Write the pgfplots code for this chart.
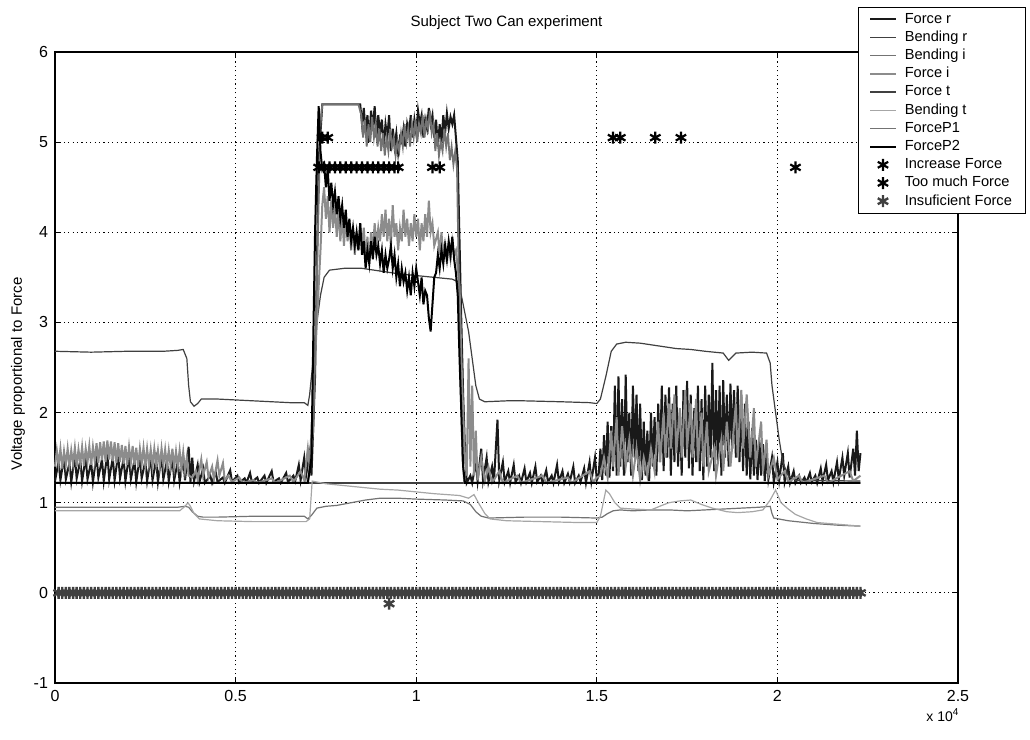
\documentclass[border=0pt]{standalone}
\usepackage{fontspec}
\setmainfont{Liberation Sans}
\usepackage{pgfplots}
\pgfplotsset{compat=1.18}
\begin{document}
\begin{tikzpicture}
\begin{axis}[
 scale only axis, width=451.5pt, height=315.5pt,
 xmin=0, xmax=25000, ymin=-1, ymax=6, clip=false,
 scaled x ticks=false,
 xtick={0,5000,10000,15000,20000,25000},
 xticklabels={0,0.5,1,1.5,2,2.5},
 ytick={-1,0,1,2,3,4,5,6},
 /pgf/number format/assume math mode=true,
 tick label style={font=\fontsize{8}{9}\selectfont},
 tick align=inside, major tick length=3pt,
 every tick/.style={black, line width=0.6pt},
 grid=major,
 major grid style={black, line width=0.5pt, dash pattern=on 0.6pt off 1.6pt},
 axis line style={line width=0.7pt},
 title={Subject Two Can experiment},
 title style={font=\fontsize{7.5}{9}\selectfont, inner sep=0pt, anchor=south, at={(0.5,1)}, yshift=5pt},
 ylabel={Voltage proportional to Force},
 ylabel style={font=\fontsize{7.5}{9}\selectfont, at={(axis description cs:-0.041,0.49)}, anchor=center},
 legend style={at={(0.889,1.0713)}, anchor=north west, draw=black, fill=white,
   font=\fontsize{7.3}{8}\selectfont, inner ysep=1.5pt, inner xsep=5.5pt, row sep=0.3pt,
   nodes={inner sep=1pt, text height=5.3pt, text depth=1.5pt},
   /tikz/every odd column/.append style={column sep=3pt}},
 legend cell align=left,
 legend image code/.code={\draw[mark repeat=2,mark phase=2,#1] plot coordinates {(0cm,0cm)(0.22cm,0cm)(0.44cm,0cm)};},
]
% Force r
\addplot[black!90, line width=1pt] table[row sep=\\] {x y\\
0 1.24\\100 1.46\\150 1.25\\250 1.5\\300 1.26\\400 1.44\\450 1.23\\550 1.52\\600 1.27\\700 1.47\\750 1.24\\850 1.5\\900 1.26\\1000 1.45\\1050 1.23\\1150 1.53\\1200 1.28\\1300 1.48\\1350 1.24\\1450 1.55\\1500 1.26\\1600 1.5\\1650 1.25\\1750 1.54\\1800 1.27\\1900 1.49\\1950 1.24\\2050 1.52\\2100 1.26\\2200 1.47\\2250 1.23\\2350 1.51\\2400 1.27\\2500 1.46\\2550 1.24\\2650 1.5\\2700 1.25\\2800 1.48\\2850 1.23\\2950 1.52\\3000 1.26\\3100 1.47\\3150 1.24\\3250 1.5\\3300 1.25\\3400 1.46\\3450 1.23\\3550 1.49\\3600 1.25\\3700 1.62\\3750 1.23\\
3800 1.5\\3850 1.24\\3950 1.42\\4000 1.23\\4100 1.38\\4150 1.22\\4300 1.3\\4350 1.22\\4450 1.34\\4500 1.23\\4650 1.28\\4700 1.22\\4850 1.36\\4900 1.23\\5050 1.3\\5100 1.22\\5250 1.27\\5300 1.22\\5400 1.33\\5450 1.23\\5600 1.28\\5650 1.22\\5800 1.3\\5850 1.22\\6000 1.35\\6050 1.23\\6200 1.27\\6250 1.22\\6400 1.33\\6450 1.23\\6600 1.3\\6650 1.24\\6750 1.42\\6800 1.25\\6900 1.5\\6950 1.3\\7050 1.55\\7100 1.3\\7200 2.4\\7250 3.6\\7300 4.8\\7350 5.1\\7400 5.42\\
8450 5.42\\8500 5.2\\8550 5.38\\8600 5.1\\8650 5.3\\8700 5.0\\8750 5.35\\8800 5.15\\8850 5.4\\8900 5.05\\8950 5.3\\9000 5.1\\9050 5.25\\9100 4.95\\9150 5.2\\9200 5.05\\9250 5.3\\9300 4.9\\9350 5.15\\9400 4.95\\9450 5.1\\9500 4.88\\9550 5.05\\9600 5.0\\9650 5.15\\9700 4.95\\9750 5.2\\9800 5.1\\9850 5.3\\9900 5.05\\9950 5.25\\10000 5.1\\10050 5.35\\10100 5.2\\10150 5.3\\10200 5.05\\10250 5.25\\10300 5.15\\10350 5.38\\10400 5.2\\10450 5.3\\10500 5.05\\10550 5.25\\10600 4.95\\10650 5.2\\10700 5.0\\10750 5.3\\10800 5.1\\10850 5.32\\10900 5.15\\10950 5.28\\11000 5.2\\11050 5.3\\11100 5.05\\11150 4.8\\11200 3.9\\11250 3.0\\11300 2.2\\11350 1.6\\11400 1.22\\
11500 1.3\\11550 1.22\\11650 1.45\\11700 1.24\\11800 1.6\\11850 1.25\\11950 1.5\\12000 1.23\\12100 1.4\\12150 1.22\\12250 1.92\\12300 1.25\\12400 1.45\\12450 1.23\\12550 1.35\\12600 1.22\\12700 1.42\\12750 1.23\\12850 1.3\\12900 1.22\\13000 1.38\\13050 1.23\\13150 1.33\\13200 1.22\\13300 1.4\\13350 1.23\\13450 1.3\\13500 1.22\\13600 1.36\\13650 1.23\\13750 1.3\\13800 1.22\\13900 1.42\\13950 1.23\\14050 1.35\\14100 1.22\\14200 1.32\\14250 1.23\\14350 1.4\\14400 1.22\\14500 1.3\\14550 1.23\\14650 1.38\\14700 1.22\\14800 1.45\\14850 1.24\\14950 1.5\\15000 1.25\\
15050 1.3\\15100 1.6\\15150 1.25\\15200 1.75\\15250 1.3\\15300 1.9\\15350 1.28\\15400 1.85\\15450 1.35\\15500 2.3\\15550 1.3\\15600 2.4\\15650 1.4\\15700 2.15\\15750 1.3\\15800 2.42\\15850 1.45\\15900 2.0\\15950 1.3\\16000 2.3\\16050 1.5\\16100 2.2\\16150 1.35\\16200 2.1\\16250 1.25\\16300 1.9\\16350 1.3\\16400 1.8\\16450 1.24\\16500 2.0\\16550 1.4\\16600 1.95\\16650 1.3\\16700 2.1\\16750 1.45\\16800 2.3\\16850 1.35\\16900 2.2\\16950 1.5\\17000 2.28\\17050 1.3\\17100 2.1\\17150 1.45\\17200 2.3\\17250 1.4\\17300 2.0\\17350 1.3\\17400 2.25\\17450 1.5\\17500 2.35\\17550 1.38\\17600 2.2\\17650 1.3\\17700 2.05\\17750 1.45\\17800 2.3\\17850 1.35\\17900 2.15\\17950 1.25\\18000 2.3\\18050 1.4\\18100 2.2\\18150 1.5\\18200 2.55\\18250 1.35\\18300 2.25\\18350 1.45\\18400 2.3\\18450 1.3\\18500 2.36\\18550 1.5\\18600 2.2\\18650 1.4\\18700 2.32\\18750 1.6\\18800 2.25\\18850 1.5\\18900 2.3\\18950 1.45\\19000 2.2\\19050 1.35\\19100 2.1\\19150 1.3\\19200 1.9\\19250 1.26\\19300 1.83\\19350 1.3\\19400 1.7\\19450 1.25\\19500 1.7\\19550 1.3\\19600 1.65\\19650 1.24\\19700 1.55\\19750 1.26\\19850 1.5\\19900 1.23\\20000 1.45\\20050 1.25\\20150 1.55\\20200 1.23\\20300 1.4\\20350 1.22\\20450 1.35\\20500 1.22\\
20600 1.3\\20650 1.22\\20750 1.28\\20800 1.22\\20900 1.33\\20950 1.23\\21050 1.3\\21100 1.22\\21200 1.38\\21250 1.24\\21350 1.42\\21400 1.25\\21500 1.35\\21550 1.23\\21650 1.45\\21700 1.26\\21800 1.5\\21850 1.3\\21950 1.55\\22000 1.28\\22100 1.6\\22150 1.3\\22200 1.8\\22250 1.35\\22300 1.55\\
};
\addlegendentry{Force r}
% Bending r
\addplot[black!75, line width=0.6pt] table[row sep=\\] {x y\\
0 2.68\\1000 2.67\\2000 2.68\\3000 2.68\\3400 2.69\\3550 2.7\\3650 2.6\\3700 2.3\\3750 2.12\\3850 2.07\\3950 2.1\\4050 2.15\\4500 2.15\\5000 2.14\\5500 2.13\\6000 2.12\\6500 2.11\\6900 2.11\\7000 2.08\\7050 2.2\\7150 2.6\\7250 3.0\\7350 3.3\\7450 3.5\\7600 3.58\\8000 3.6\\8500 3.6\\9000 3.57\\9500 3.54\\10000 3.52\\10500 3.5\\11000 3.48\\11150 3.45\\11250 3.3\\11350 3.1\\11450 2.9\\11550 2.6\\11650 2.3\\11750 2.15\\11900 2.12\\12500 2.13\\13000 2.13\\14000 2.12\\14800 2.11\\15000 2.1\\15100 2.15\\15250 2.4\\15400 2.68\\15550 2.76\\15800 2.78\\16200 2.77\\16700 2.74\\17200 2.71\\17600 2.7\\18000 2.68\\18500 2.66\\18650 2.58\\18750 2.62\\18850 2.66\\19300 2.67\\19700 2.66\\19800 2.55\\19850 2.3\\19950 2.0\\20050 1.7\\20150 1.45\\20300 1.3\\20500 1.25\\22300 1.24\\
};
\addlegendentry{Bending r}
% Bending i
\addplot[black!55, line width=0.6pt] table[row sep=\\] {x y\\
0 0.95\\3000 0.95\\3400 0.95\\3600 0.96\\3700 0.95\\3800 0.9\\3950 0.85\\4100 0.84\\4500 0.84\\5500 0.85\\6500 0.85\\6900 0.85\\7000 0.82\\7100 0.86\\7250 0.94\\7500 0.96\\7800 0.97\\8200 1.0\\8600 1.03\\9000 1.05\\9500 1.05\\10000 1.04\\10800 1.03\\11300 1.02\\11500 0.98\\11650 0.9\\11800 0.85\\12000 0.83\\13000 0.84\\14000 0.84\\15000 0.83\\15150 0.84\\15300 0.88\\15450 0.91\\15650 0.92\\16000 0.91\\16500 0.92\\17000 0.92\\17500 0.91\\18000 0.92\\18500 0.93\\19000 0.94\\19500 0.95\\19800 0.96\\19850 0.88\\19900 0.83\\20300 0.8\\21000 0.77\\21700 0.75\\22300 0.74\\
};
\addlegendentry{Bending i}
% Force i
\addplot[black!45, line width=1pt] table[row sep=\\] {x y\\
0 1.4\\50 1.58\\100 1.42\\150 1.6\\200 1.38\\250 1.57\\300 1.42\\350 1.6\\400 1.4\\450 1.58\\500 1.43\\550 1.61\\600 1.4\\650 1.59\\700 1.44\\750 1.62\\800 1.41\\850 1.6\\900 1.45\\950 1.63\\1000 1.42\\1050 1.62\\1100 1.46\\1150 1.66\\1200 1.44\\1250 1.67\\1300 1.47\\1350 1.68\\1400 1.45\\1450 1.69\\1500 1.48\\1550 1.68\\1600 1.46\\1650 1.67\\1700 1.44\\1750 1.66\\1800 1.45\\1850 1.64\\1900 1.43\\1950 1.63\\2000 1.42\\2050 1.62\\2100 1.44\\2150 1.63\\2200 1.42\\2250 1.61\\2300 1.4\\2350 1.6\\2400 1.43\\2450 1.61\\2500 1.41\\2550 1.6\\2600 1.42\\2650 1.59\\2700 1.4\\2750 1.6\\2800 1.43\\2850 1.58\\2900 1.4\\2950 1.6\\3000 1.42\\3050 1.59\\3100 1.4\\3150 1.58\\3200 1.41\\3250 1.6\\3300 1.39\\3350 1.57\\3400 1.4\\3450 1.58\\3500 1.38\\3550 1.56\\3600 1.35\\3650 1.5\\3700 1.3\\
3800 1.28\\3900 1.35\\3950 1.25\\4050 1.48\\4100 1.3\\4200 1.45\\4250 1.28\\4350 1.4\\4400 1.26\\4500 1.47\\4550 1.3\\4650 1.44\\4700 1.25\\4800 1.3\\4900 1.23\\5100 1.28\\5200 1.22\\5500 1.25\\5600 1.22\\6000 1.27\\6100 1.22\\6500 1.3\\6600 1.23\\6800 1.35\\6900 1.25\\7000 1.6\\7050 1.4\\7150 2.2\\7250 3.0\\7350 3.8\\7400 4.3\\
7450 4.5\\7500 4.15\\7550 4.4\\7600 4.0\\7650 4.35\\7700 4.05\\7750 4.3\\7800 3.95\\7850 4.25\\7900 3.9\\7950 4.2\\8000 3.85\\8050 4.15\\8100 3.9\\8150 4.1\\8200 3.8\\8250 4.05\\8300 3.75\\8350 4.0\\8400 3.8\\8450 4.1\\8500 3.85\\8550 4.05\\8600 3.7\\8650 3.95\\8700 3.65\\8750 4.0\\8800 3.8\\8850 4.1\\8900 3.85\\8950 4.05\\9000 3.9\\9050 4.2\\9100 3.95\\9150 4.25\\9200 3.9\\9250 4.15\\9300 3.85\\9350 4.3\\9400 3.95\\9450 4.1\\9500 3.8\\9550 4.05\\9600 3.9\\9650 4.25\\9700 3.95\\9750 4.15\\9800 3.85\\9850 4.1\\9900 3.9\\9950 4.2\\10000 3.95\\10050 4.15\\10100 3.8\\10150 4.1\\10200 3.9\\10250 4.2\\10300 3.95\\10350 4.35\\10400 4.0\\10450 4.1\\10500 3.85\\10600 4.0\\10650 3.75\\10700 4.0\\10750 3.7\\10800 3.9\\10850 3.65\\10900 3.85\\10950 3.7\\11000 3.9\\11050 3.75\\11100 3.8\\11150 3.6\\11200 3.4\\11250 2.6\\11300 2.0\\11350 1.5\\11400 1.3\\11450 2.6\\11500 1.4\\11550 2.3\\11600 1.3\\11650 1.8\\11700 1.25\\11800 1.5\\11900 1.24\\12000 1.4\\12100 1.22\\12300 1.35\\12400 1.22\\12800 1.3\\12900 1.22\\13500 1.3\\13600 1.22\\14200 1.28\\14300 1.22\\14800 1.35\\14900 1.23\\15000 1.28\\
15100 1.3\\15200 1.5\\15300 1.28\\15400 1.8\\15450 1.4\\15550 1.95\\15600 1.3\\15700 1.85\\15800 1.4\\15900 1.7\\16000 1.3\\16100 1.6\\16200 1.25\\16300 1.5\\16400 1.3\\16500 1.6\\16600 1.35\\16700 1.9\\16750 1.45\\16850 2.0\\16900 1.5\\17000 2.1\\17050 1.6\\17150 2.2\\17200 1.55\\17300 2.05\\17350 1.5\\17450 2.25\\17500 1.6\\17600 2.1\\17650 1.5\\17750 2.15\\17800 1.45\\17900 2.0\\17950 1.4\\18050 1.9\\18100 1.35\\18250 1.6\\18300 1.3\\18450 1.7\\18500 1.35\\18600 1.9\\18700 1.4\\18850 2.1\\18900 1.5\\19000 2.25\\19050 1.6\\19150 2.2\\19250 1.5\\19350 2.05\\19400 1.4\\19550 1.9\\19600 1.35\\19700 1.7\\19750 1.3\\19900 1.5\\20000 1.26\\20200 1.35\\20300 1.23\\20600 1.3\\20700 1.22\\21300 1.3\\21400 1.22\\22000 1.35\\22100 1.24\\22300 1.3\\
};
\addlegendentry{Force i}
% Force t
\addplot[black!75, line width=1.3pt] table[row sep=\\] {x y\\
0 1.22\\22300 1.22\\
};
\addlegendentry{Force t}
% Bending t
\addplot[black!35, line width=0.6pt] table[row sep=\\] {x y\\
0 0.91\\3000 0.91\\3450 0.91\\3600 0.96\\3680 1.0\\3750 0.96\\3850 0.88\\4000 0.82\\4500 0.8\\5500 0.79\\6500 0.79\\6950 0.79\\7050 0.82\\7120 1.24\\7500 1.21\\8000 1.19\\8500 1.17\\9000 1.15\\9500 1.14\\10000 1.12\\10500 1.1\\11200 1.08\\11450 1.05\\11600 1.09\\11750 0.98\\11900 0.88\\12050 0.82\\12500 0.8\\13500 0.79\\14500 0.78\\15000 0.78\\15100 0.85\\15250 1.14\\15350 1.1\\15500 1.0\\15650 0.94\\16000 0.93\\16500 0.92\\16800 0.97\\17000 1.0\\17300 1.02\\17600 1.03\\17900 0.98\\18200 0.94\\18600 0.9\\18900 0.89\\19300 0.9\\19600 0.92\\19800 1.03\\19950 1.14\\20100 1.0\\20300 0.93\\20500 0.87\\20800 0.82\\21100 0.78\\21700 0.76\\22300 0.74\\
};
\addlegendentry{Bending t}
% ForceP1
\addplot[black!55, line width=0.9pt] table[row sep=\\] {x y\\
0 1.22\\7000 1.22\\7150 1.8\\7250 3.5\\7350 5.2\\7400 5.42\\8400 5.42\\8480 5.3\\8530 5.05\\8580 5.25\\8630 4.95\\8680 5.2\\8730 5.0\\8780 5.28\\8830 5.05\\8880 5.2\\8930 4.95\\8980 5.15\\9030 4.9\\9080 5.1\\9130 4.85\\9180 5.05\\9230 4.9\\9280 5.15\\9330 4.95\\9380 5.05\\9430 4.85\\9480 5.0\\9530 4.9\\9580 5.1\\9630 4.95\\9680 5.2\\9730 5.0\\9780 5.15\\9830 4.95\\9880 5.2\\9930 5.05\\9980 5.25\\10030 5.0\\10080 5.2\\10130 5.1\\10180 5.3\\10230 5.05\\10280 5.25\\10330 5.15\\10380 5.35\\10430 5.1\\10480 5.2\\10530 4.9\\10580 5.1\\10630 4.85\\10680 5.0\\10730 4.9\\10780 5.15\\10830 4.95\\10880 5.1\\10930 4.8\\10980 4.95\\11030 4.75\\11080 4.9\\11130 4.7\\11180 3.5\\11230 2.3\\11280 1.5\\11330 1.22\\22300 1.22\\
};
\addlegendentry{ForceP1}
% ForceP2
\addplot[black, line width=1pt] table[row sep=\\] {x y\\
0 1.22\\7000 1.22\\7100 1.5\\7150 2.8\\7200 4.0\\7250 4.8\\7300 5.4\\7350 4.9\\7400 4.7\\7450 4.75\\7500 4.5\\7550 4.7\\7600 4.35\\7650 4.55\\7700 4.3\\7750 4.45\\7800 4.2\\7850 4.4\\7900 4.15\\7950 4.3\\8000 4.05\\8050 4.25\\8100 3.95\\8150 4.15\\8200 3.9\\8250 4.05\\8300 3.85\\8350 4.0\\8400 3.8\\8450 4.1\\8500 3.75\\8550 3.9\\8600 3.6\\8650 3.8\\8700 3.65\\8750 3.9\\8800 3.7\\8850 3.95\\8900 3.75\\8950 3.85\\9000 3.65\\9050 3.8\\9100 3.55\\9150 3.75\\9200 3.6\\9250 3.7\\9300 3.85\\9350 3.6\\9400 3.75\\9450 3.5\\9500 3.65\\9550 3.4\\9600 3.6\\9650 3.45\\9700 3.55\\9750 3.35\\9800 3.5\\9850 3.3\\9900 3.55\\9950 3.4\\10000 3.6\\10050 3.45\\10100 3.3\\10150 3.5\\10200 3.2\\10250 3.35\\10300 3.3\\10350 3.05\\10400 2.9\\10450 3.2\\10500 3.5\\10550 3.55\\10600 3.75\\10650 3.6\\10700 3.8\\10750 3.65\\10800 3.85\\10850 3.7\\10900 3.9\\10950 3.75\\11000 3.95\\11050 3.7\\11100 3.55\\11150 3.3\\11200 2.6\\11250 2.0\\11300 1.4\\11350 1.22\\22300 1.22\\
};
\addlegendentry{ForceP2}
% markers
\addplot[only marks, mark=asterisk, mark size=3pt, mark options={black, line width=1.1pt}] coordinates {
(7300,4.72)(7450,4.72)(7600,4.72)(7750,4.72)(7900,4.72)(8050,4.72)(8200,4.72)(8350,4.72)(8500,4.72)(8650,4.72)(8800,4.72)(8950,4.72)(9100,4.72)(9250,4.72)(9400,4.72)(9500,4.72)(10450,4.72)(10650,4.72)(20500,4.72)};
\addlegendentry{Increase Force}
\addplot[only marks, mark=asterisk, mark size=3pt, mark options={black, line width=1.1pt}] coordinates {
(7400,5.05)(7550,5.05)(15450,5.05)(15650,5.05)(16620,5.05)(17330,5.05)};
\addlegendentry{Too much Force}
\addplot[only marks, mark=asterisk, mark size=3pt, mark options={black!75, line width=1.2pt}] coordinates {
(100,0)(200,0)(300,0)(400,0)(500,0)(600,0)(700,0)(800,0)(900,0)(1000,0)(1100,0)(1200,0)(1300,0)(1400,0)(1500,0)(1600,0)(1700,0)(1800,0)(1900,0)(2000,0)(2100,0)(2200,0)(2300,0)(2400,0)(2500,0)(2600,0)(2700,0)(2800,0)(2900,0)(3000,0)(3100,0)(3200,0)(3300,0)(3400,0)(3500,0)(3600,0)(3700,0)(3800,0)(3900,0)(4000,0)(4100,0)(4200,0)(4300,0)(4400,0)(4500,0)(4600,0)(4700,0)(4800,0)(4900,0)(5000,0)(5100,0)(5200,0)(5300,0)(5400,0)(5500,0)(5600,0)(5700,0)(5800,0)(5900,0)(6000,0)(6100,0)(6200,0)(6300,0)(6400,0)(6500,0)(6600,0)(6700,0)(6800,0)(6900,0)(7000,0)(7100,0)(7200,0)(7300,0)(7400,0)(7500,0)(7600,0)(7700,0)(7800,0)(7900,0)(8000,0)(8100,0)(8200,0)(8300,0)(8400,0)(8500,0)(8600,0)(8700,0)(8800,0)(8900,0)(9000,0)(9100,0)(9200,0)(9300,0)(9400,0)(9500,0)(9600,0)(9700,0)(9800,0)(9900,0)(10000,0)(10100,0)(10200,0)(10300,0)(10400,0)(10500,0)(10600,0)(10700,0)(10800,0)(10900,0)(11000,0)(11100,0)(11200,0)(11300,0)(11400,0)(11500,0)(11600,0)(11700,0)(11800,0)(11900,0)(12000,0)(12100,0)(12200,0)(12300,0)(12400,0)(12500,0)(12600,0)(12700,0)(12800,0)(12900,0)(13000,0)(13100,0)(13200,0)(13300,0)(13400,0)(13500,0)(13600,0)(13700,0)(13800,0)(13900,0)(14000,0)(14100,0)(14200,0)(14300,0)(14400,0)(14500,0)(14600,0)(14700,0)(14800,0)(14900,0)(15000,0)(15100,0)(15200,0)(15300,0)(15400,0)(15500,0)(15600,0)(15700,0)(15800,0)(15900,0)(16000,0)(16100,0)(16200,0)(16300,0)(16400,0)(16500,0)(16600,0)(16700,0)(16800,0)(16900,0)(17000,0)(17100,0)(17200,0)(17300,0)(17400,0)(17500,0)(17600,0)(17700,0)(17800,0)(17900,0)(18000,0)(18100,0)(18200,0)(18300,0)(18400,0)(18500,0)(18600,0)(18700,0)(18800,0)(18900,0)(19000,0)(19100,0)(19200,0)(19300,0)(19400,0)(19500,0)(19600,0)(19700,0)(19800,0)(19900,0)(20000,0)(20100,0)(20200,0)(20300,0)(20400,0)(20500,0)(20600,0)(20700,0)(20800,0)(20900,0)(21000,0)(21100,0)(21200,0)(21300,0)(21400,0)(21500,0)(21600,0)(21700,0)(21800,0)(21900,0)(22000,0)(22100,0)(22200,0)(22300,0)(9250,-0.12)};
\addlegendentry{Insuficient Force}
\node[anchor=north east, inner sep=0pt, yshift=-12.5pt, font=\fontsize{7}{8}\selectfont] at (rel axis cs:1.002,0) {x 10\textsuperscript{4}};
\end{axis}
\path (-27.5pt,-28.5pt) rectangle (487.5pt,341.5pt);
\end{tikzpicture}
\end{document}
